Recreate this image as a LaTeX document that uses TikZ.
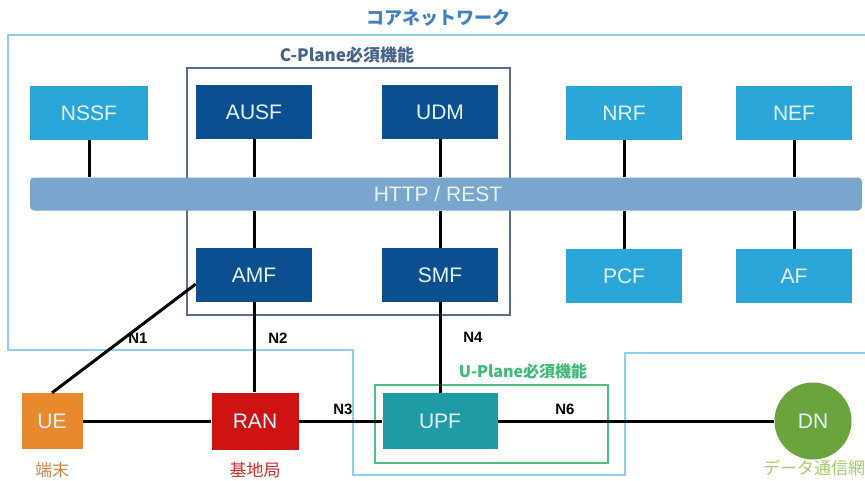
\documentclass[tikz,border=0pt]{standalone}
\usepackage{fontspec}
\setmainfont{Liberation Sans}
\newfontfamily\jp{Noto Sans CJK JP}
\usetikzlibrary{calc}
\definecolor{lightnf}{HTML}{2AA6D8}
\definecolor{darknf}{HTML}{0C4F91}
\definecolor{nftext}{HTML}{E4F5FF}
\definecolor{barcol}{HTML}{7AA5CC}
\definecolor{coreline}{HTML}{8AD2EC}
\definecolor{cplane}{HTML}{5A6E8C}
\definecolor{cplanetxt}{HTML}{46618A}
\definecolor{uplane}{HTML}{4CC080}
\definecolor{uplanetxt}{HTML}{3DBA76}
\definecolor{titlecol}{HTML}{3F80C2}
\definecolor{uecol}{HTML}{E8892C}
\definecolor{uetxt}{HTML}{C98848}
\definecolor{rancol}{HTML}{CF1212}
\definecolor{rantxt}{HTML}{D42A2A}
\definecolor{upfcol}{HTML}{1F9BA6}
\definecolor{dncol}{HTML}{6BA33C}
\definecolor{dntxt}{HTML}{A5CC6A}
\begin{document}
\begin{tikzpicture}[x=1pt,y=-1pt,
  nf/.style={minimum width=116pt, minimum height=54pt, inner sep=0pt,
    text=nftext, font=\fontsize{21}{21}\selectfont},
  lightbox/.style={nf, fill=lightnf},
  darkbox/.style={nf, fill=darknf},
  link/.style={line width=3pt, black},
  nlab/.style={font=\bfseries\fontsize{15}{15}\selectfont, inner sep=0pt},
  sublab/.style={font=\jp\fontsize{17}{17}\selectfont, inner sep=0pt},
  grouplab/.style={font=\jp\bfseries\fontsize{17}{17}\selectfont, inner sep=0pt}]
\useasboundingbox (0,0) rectangle (865,480);
\fill[white] (0,0) rectangle (865,480);

% core network region
\draw[coreline, line width=1.6pt]
  (8,35) -- (880,35) -- (880,353) -- (625,353) -- (625,475)
  -- (353,475) -- (353,350) -- (8,350) -- cycle;
\node[grouplab, text=titlecol, font=\jp\bfseries\fontsize{18}{18}\selectfont]
  (coretitle) at (438,18) {コアネットワーク};

% C-Plane group
\draw[cplane, line width=1.3pt] (187,68) rectangle (510,315);
\node[grouplab, text=cplanetxt] (cplanelab) at (347,55) {C-Plane必須機能};

% U-Plane group
\draw[uplane, line width=1.5pt] (375,385) rectangle (608,463);
\node[grouplab, text=uplanetxt, font=\jp\bfseries\fontsize{16}{16}\selectfont]
  (uplanelab) at (523,371) {U-Plane必須機能};

% service bus
\node[fill=barcol, rounded corners=4pt, minimum width=832pt, minimum height=33pt,
  inner sep=0pt] (bar) at (446,194) {};
\node[text=nftext, font=\fontsize{21}{21}\selectfont] (bartxt) at (438,194) {HTTP / REST};

% network functions
\node[lightbox, minimum width=118pt] (nssf) at (89,113) {NSSF};
\node[darkbox] (ausf) at (254,112) {AUSF};
\node[darkbox] (udm)  at (440,112) {UDM};
\node[lightbox] (nrf) at (624,113) {NRF};
\node[lightbox] (nef) at (794,113) {NEF};
\node[darkbox] (amf)  at (254,275) {AMF};
\node[darkbox] (smf)  at (440,275) {SMF};
\node[lightbox] (pcf) at (624,276) {PCF};
\node[lightbox] (af)  at (794,276) {AF};

% bus connections
\foreach \n in {nssf,ausf,udm,nrf,nef}
  \draw[link] (\n.south) -- (\n.south |- bar.north);
\foreach \n in {amf,smf,pcf,af}
  \draw[link] (\n.north) -- (\n.north |- bar.south);

% access and user plane
\node[nf, fill=uecol, minimum width=61pt, minimum height=56pt] (ue) at (52,421) {UE};
\node[nf, fill=rancol, minimum width=87pt, minimum height=57pt] (ran) at (255,421) {RAN};
\node[nf, fill=upfcol, minimum width=115pt, minimum height=56pt] (upf) at (440,421) {UPF};
\node[circle, fill=dncol, minimum size=77pt, inner sep=0pt, text=nftext,
  font=\fontsize{21}{21}\selectfont] (dn) at (813,421) {DN};

\node[sublab, text=uetxt] (uelab) at (52,470) {端末};
\node[sublab, text=rantxt] (ranlab) at (255,470) {基地局};
\node[sublab, text=dntxt, anchor=west] (dnlab) at (763,468) {データ通信網};

% reference points
\coordinate (amfin) at ($(amf.west)+(0,9)$);
\draw[link] (ue.north) -- (amfin);
\draw[link] (amf.south) -- (amf.south |- ran.north);
\draw[link] (smf.south) -- (smf.south |- upf.north);
\draw[link] (ue.east) -- (ran.west);
\draw[link] (ran.east) -- (upf.west);
\draw[link] (upf.east) -- (dn.west);

\node[nlab] (n1) at (138,338) {N1};
\node[nlab] (n2) at (278,338) {N2};
\node[nlab] (n4) at (473,337) {N4};
\node[nlab] (n3) at (343,409) {N3};
\node[nlab] (n6) at (565,409) {N6};
\end{tikzpicture}
\end{document}
